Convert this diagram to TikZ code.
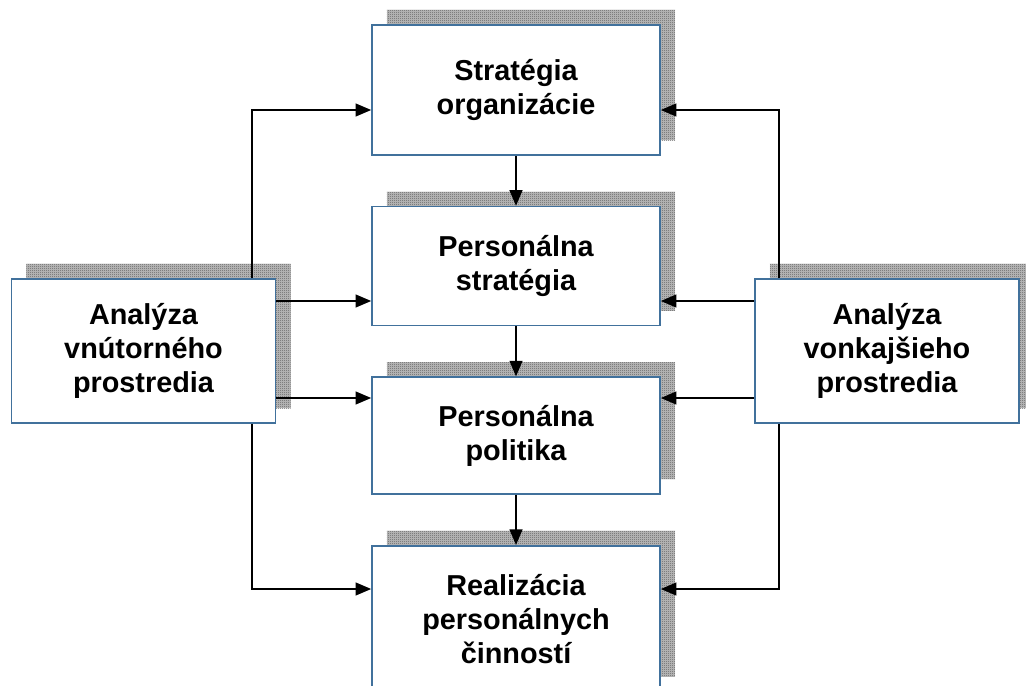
\documentclass[tikz,border=0pt]{standalone}
\usepackage{fontspec}
\setmainfont{Liberation Sans}
\usepackage{tikz}
\usetikzlibrary{arrows.meta,positioning,shadows,patterns}
\definecolor{boxblue}{HTML}{41719C}
\definecolor{shadelight}{HTML}{BEBEBE}
\definecolor{shadedark}{HTML}{5C5C5C}

% fine checkerboard for the shadows
\pgfdeclarepatternformonly{finechecker}{\pgfpointorigin}{\pgfqpoint{1.4226pt}{1.4226pt}}{\pgfqpoint{1.4226pt}{1.4226pt}}{%
  \pgfpathrectangle{\pgfpointorigin}{\pgfqpoint{0.7113pt}{0.7113pt}}%
  \pgfpathrectangle{\pgfqpoint{0.7113pt}{0.7113pt}}{\pgfqpoint{0.7113pt}{0.7113pt}}%
  \pgfusepath{fill}}

\begin{document}
\begin{tikzpicture}[
    x=0.025cm, y=-0.025cm,
    node distance=1.25cm,
    box/.style={rectangle, draw=boxblue, fill=white, line width=1.1pt,
                minimum width=7.2cm, align=center,
                font=\fontsize{20.5}{24.2}\selectfont\bfseries,
                general shadow={shadow xshift=0.375cm, shadow yshift=0.375cm, fill=shadelight},
                general shadow={shadow xshift=0.375cm, shadow yshift=0.375cm, pattern=finechecker, pattern color=shadedark}},
    sidebox/.style={box, minimum width=6.6cm, minimum height=3.6cm},
    arr/.style={-{Triangle[length=3.9mm, width=3.2mm]}, line width=1.3pt, black}
]
\useasboundingbox (0,0) rectangle (1026,685);

\node[box, minimum height=3.25cm] (strat) at (516,90) {Stratégia\\organizácie};
\node[box, minimum height=2.975cm, below=of strat] (pstrat) {Personálna\\stratégia};
\node[box, minimum height=2.925cm, below=of pstrat] (ppol) {Personálna\\politika};
\node[box, minimum height=3.65cm, below=of ppol] (real) {Realizácia\\personálnych\\činností};

\node[sidebox] (inner) at (143.5,351) {Analýza\\vnútorného\\prostredia};
\node[sidebox] (outer) at (887,351) {Analýza\\vonkajšieho\\prostredia};

% rows and columns of the connectors
\coordinate (r1) at (0,110);
\coordinate (r2) at (0,301);
\coordinate (r3) at (0,398);
\coordinate (r4) at (0,589);
\coordinate (lcol) at (252,0);
\coordinate (rcol) at (779,0);

\draw[arr] (strat) -- (pstrat);
\draw[arr] (pstrat) -- (ppol);
\draw[arr] (ppol) -- (real);

\draw[arr] (inner.north -| lcol) |- (r1 -| strat.west);
\draw[arr] (inner.south -| lcol) |- (r4 -| real.west);
\draw[arr] (r2 -| inner.east) -- (r2 -| pstrat.west);
\draw[arr] (r3 -| inner.east) -- (r3 -| ppol.west);

\draw[arr] (outer.north -| rcol) |- (r1 -| strat.east);
\draw[arr] (outer.south -| rcol) |- (r4 -| real.east);
\draw[arr] (r2 -| outer.west) -- (r2 -| pstrat.east);
\draw[arr] (r3 -| outer.west) -- (r3 -| ppol.east);

\end{tikzpicture}
\end{document}
